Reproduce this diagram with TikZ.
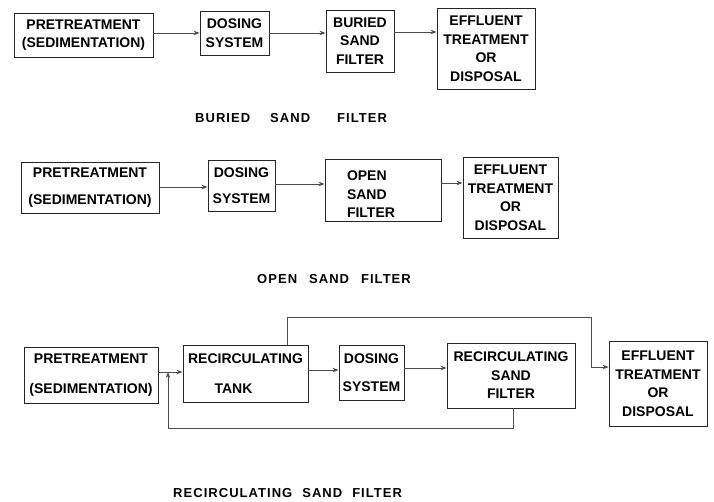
\documentclass[tikz,border=0pt]{standalone}
\usepackage{fontspec}
\setmainfont{Liberation Sans}
\newfontfamily\capfont[LetterSpace=8]{Liberation Sans}
\usetikzlibrary{arrows.meta}
\tikzset{
  x=1pt, y=-1pt,
  box/.style={draw=black!85, line width=0.9pt, inner sep=0pt, align=center,
    font=\bfseries\fontsize{14}{18.5}\selectfont},
  arr/.style={draw=black!70, line width=0.8pt, -{Stealth[length=6pt,width=4.5pt]}},
  captxt/.style={anchor=west, inner sep=0pt, font=\capfont\bfseries\fontsize{13}{15}\selectfont}
}
\begin{document}
\begin{tikzpicture}
\useasboundingbox (0,0) rectangle (714,501);
% Row 1: buried sand filter
\node[box, minimum width=139pt, minimum height=44pt] (p1) at (83.5,35) {PRETREATMENT\\(SEDIMENTATION)};
\node[box, minimum width=69pt, minimum height=44pt] (d1) at (234.5,33) {DOSING\\SYSTEM};
\node[box, minimum width=68pt, minimum height=62pt] (b1) at (360,41) {BURIED\\SAND\\FILTER};
\node[box, minimum width=98pt, minimum height=81pt] (e1) at (486,48.5) {EFFLUENT\\TREATMENT\\OR\\DISPOSAL};
\draw[arr] (p1.east |- 0,33) -- (d1.west |- 0,33);
\draw[arr] (d1.east |- 0,33) -- (b1.west |- 0,33);
\draw[arr] (b1.east |- 0,32) -- (e1.west |- 0,32);
\node[captxt] (c1) at (195,118) {BURIED\hspace{20pt}SAND\hspace{27pt}FILTER};
% Row 2: open sand filter
\node[box, minimum width=138pt, minimum height=51pt] (p2) at (90,187.5) {PRETREATMENT\\[8pt](SEDIMENTATION)};
\node[box, minimum width=67pt, minimum height=51pt] (d2) at (241.5,185.5) {DOSING\\[7pt]SYSTEM};
\node[box, minimum width=116pt, minimum height=62pt, text width=72pt, align=left] (o2) at (383,190) {\mbox{}\\OPEN\\SAND\\FILTER};
\node[box, minimum width=95pt, minimum height=81pt] (e2) at (510.5,197.5) {EFFLUENT\\TREATMENT\\OR\\DISPOSAL};
\draw[arr] (p2.east |- 0,187) -- (d2.west |- 0,187);
\draw[arr] (d2.east |- 0,184) -- (o2.west |- 0,184);
\draw[arr] (o2.east |- 0,183) -- (e2.west |- 0,183);
\node[captxt] (c2) at (257,279) {OPEN\hspace{12pt}SAND\hspace{12pt}FILTER};
% Row 3: recirculating sand filter
\node[box, minimum width=134pt, minimum height=56pt] (p3) at (91,375) {PRETREATMENT\\[11pt](SEDIMENTATION)};
\node[box, minimum width=125pt, minimum height=57pt] (t3) at (245.5,373.5) {RECIRCULATING\\[11pt]TANK\rule{24pt}{0pt}};
\node[box, minimum width=65pt, minimum height=55pt] (d3) at (371.5,372.5) {DOSING\\[10pt]SYSTEM};
\node[box, minimum width=128pt, minimum height=65pt] (f3) at (511,375.5) {RECIRCULATING\\SAND\\FILTER};
\node[box, minimum width=98pt, minimum height=85pt] (e3) at (658,383.5) {EFFLUENT\\TREATMENT\\OR\\DISPOSAL};
\coordinate (j) at (168,372);
\draw[arr] (p3.east |- 0,372) -- (t3.west |- 0,372);
\draw[arr] (t3.east |- 0,370) -- (d3.west |- 0,370);
\draw[arr] (d3.east |- 0,368) -- (f3.west |- 0,368);
\draw[arr] (f3.south -| 513,0) -- (513,428) -- (168,428) -- (j);
\draw[arr] (t3.north -| 287,0) -- (287,317) -- (591,317) -- (591,367) -- (e3.west |- 0,367);
\node[captxt] (c3) at (173,493) {RECIRCULATING\hspace{10pt}SAND\hspace{10pt}FILTER};
\end{tikzpicture}
\end{document}
